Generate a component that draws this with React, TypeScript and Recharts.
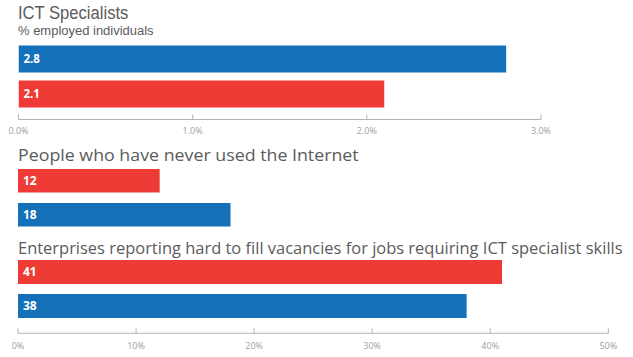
import React, { useLayoutEffect, useRef, useState } from 'react';
import { BarChart, Bar, XAxis, YAxis, Cell, LabelList } from 'recharts';

// ---- data ----
const ictTitle = 'ICT Specialists';
const ictSubtitle = '% employed individuals';
const ictRows = ['EU', 'Country'];
const ictValues = [2.8, 2.1];
const ictTicks = [0, 1, 2, 3];

const internetTitle = 'People who have never used the Internet';
const internetRows = ['Country', 'EU'];
const internetValues = [12, 18];

const vacancyTitle = 'Enterprises reporting hard to fill vacancies for jobs requiring ICT specialist skills';
const vacancyRows = ['Country', 'EU'];
const vacancyValues = [41, 38];
const pctTicks = [0, 10, 20, 30, 40, 50];

const BLUE = '#1470b8';
const RED = '#ee3b36';
const colorOf = (row: string) => (row === 'EU' ? BLUE : RED);

const W = 633;
const H = 357;
const FONT = '"Open Sans", "Noto Sans", sans-serif';
const FONT_TIGHT = '"Liberation Sans", Arial, sans-serif';

const toData = (rows: string[], values: number[]) => rows.map((r, i) => ({ row: r, value: values[i] }));

const makeTick = (fmt: (v: number) => string, dy: number) => (props: any) => {
  const { x, y, payload } = props;
  return (
    <g>
      <line x1={x} x2={x} y1={y - 5} y2={y} stroke="#b3b3b3" strokeWidth={1} />
      <text x={x} y={y + dy} textAnchor="middle" fontSize={9} fill="#a0a0a0" fontFamily={FONT}>
        {fmt(payload.value)}
      </text>
    </g>
  );
};

type ChartProps = {
  rows: string[];
  values: number[];
  domain: [number, number];
  ticks: number[];
  fmt: (v: number) => string;
  margin: { top: number; bottom: number; left: number; right: number };
  padBottom: number;
  barSize: number;
  showAxis: boolean;
  tickDy: number;
  labelSize: number;
};

function HChart(p: ChartProps) {
  const data = toData(p.rows, p.values);
  return (
    <div style={{ position: 'absolute', left: 0, top: 0 }}>
      <BarChart width={W} height={H} data={data} layout="vertical" margin={p.margin} barSize={p.barSize}>
        <XAxis
          type="number"
          domain={p.domain}
          ticks={p.ticks}
          allowDataOverflow
          hide={!p.showAxis}
          height={20}
          tickSize={0}
          tickMargin={0}
          tickLine={false}
          axisLine={{ stroke: '#b3b3b3', strokeWidth: 1 }}
          tick={makeTick(p.fmt, p.tickDy)}
          interval={0}
        />
        <YAxis type="category" dataKey="row" hide width={0} padding={{ top: 0, bottom: p.padBottom }} />
        <Bar dataKey="value" isAnimationActive={false}>
          {data.map((d, i) => (
            <Cell key={i} fill={colorOf(d.row)} />
          ))}
          <LabelList
            dataKey="value"
            position="insideLeft"
            offset={5}
            fill="#ffffff"
            fontSize={p.labelSize}
            fontWeight={700}
            fontFamily={FONT}
          />
        </Bar>
      </BarChart>
    </div>
  );
}

function FitText(props: { text: string; x: number; baseline: number; fontSize: number; width: number; font: string; asc: number }) {
  const { text, x, baseline, fontSize, width, font, asc } = props;
  const ref = useRef<HTMLSpanElement>(null);
  const [scale, setScale] = useState(1);
  useLayoutEffect(() => {
    if (ref.current) {
      const natural = ref.current.offsetWidth;
      if (natural > 0) setScale(width / natural);
    }
  }, [text, width, fontSize]);
  return (
    <span
      ref={ref}
      style={{
        position: 'absolute',
        left: x,
        top: baseline - asc * fontSize,
        display: 'inline-block',
        fontFamily: font,
        fontSize,
        lineHeight: `${fontSize}px`,
        whiteSpace: 'nowrap',
        color: '#5b5b5b',
        transform: `scaleX(${scale})`,
        transformOrigin: 'left center',
      }}
    >
      {text}
    </span>
  );
}

export default function App() {
  return (
    <div style={{ position: 'absolute', left: 0, top: 0, width: W, height: H, background: '#ffffff', overflow: 'hidden' }}>
      <HChart
        rows={ictRows}
        values={ictValues}
        domain={[0, 3]}
        ticks={ictTicks}
        fmt={(v) => v.toFixed(1) + '%'}
        margin={{ top: 41.5, bottom: H - 119.5 - 20, left: 18.5, right: W - 541 }}
        padBottom={8}
        barSize={27}
        showAxis={true}
        tickDy={14.5}
        labelSize={11.5}
      />
      <HChart
        rows={internetRows}
        values={internetValues}
        domain={[0, 50]}
        ticks={pctTicks}
        fmt={(v) => v + '%'}
        margin={{ top: 164, bottom: H - 232, left: 18, right: W - 608.3 }}
        padBottom={0}
        barSize={23.5}
        showAxis={false}
        tickDy={15}
        labelSize={12}
      />
      <HChart
        rows={vacancyRows}
        values={vacancyValues}
        domain={[0, 50]}
        ticks={pctTicks}
        fmt={(v) => v + '%'}
        margin={{ top: 255, bottom: H - 333.3 - 20, left: 18, right: W - 608.3 }}
        padBottom={10.3}
        barSize={24}
        showAxis={true}
        tickDy={15.5}
        labelSize={12}
      />
      <FitText text={ictTitle} x={18} baseline={20} fontSize={17.5} width={110} font={FONT_TIGHT} asc={0.8465} />
      <FitText text={ictSubtitle} x={18} baseline={35.5} fontSize={12.5} width={136} font={FONT_TIGHT} asc={0.8465} />
      <FitText text={internetTitle} x={18} baseline={160.7} fontSize={17} width={341} font={FONT} asc={0.888} />
      <FitText text={vacancyTitle} x={18} baseline={254} fontSize={17} width={605} font={FONT} asc={0.888} />
    </div>
  );
}
